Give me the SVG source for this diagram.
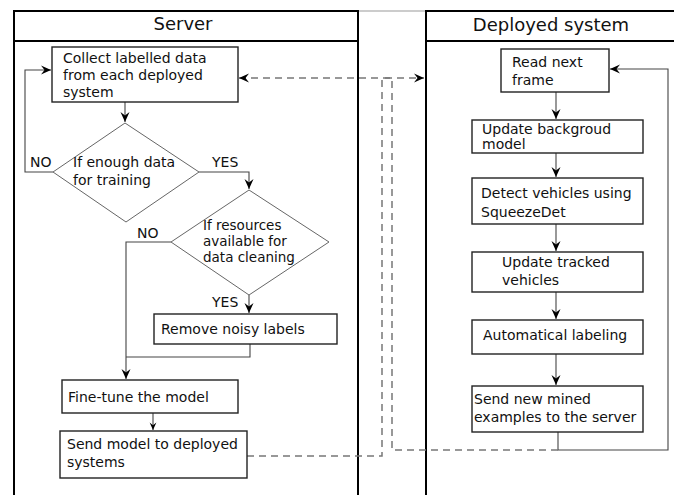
<svg xmlns="http://www.w3.org/2000/svg" width="674" height="495" viewBox="0 0 674 495">
<defs>
<style>
text{font-family:"DejaVu Sans",Verdana,sans-serif;font-size:14px;fill:#111}
.hdr{font-size:18px;text-anchor:middle}
.tight{font-size:13.5px}
.lane{fill:none;stroke:#000;stroke-width:2}
.box{fill:#fff;stroke:#222;stroke-width:1.4}
.dia{fill:#fff;stroke:#666;stroke-width:1}
.c{fill:none;stroke:#444;stroke-width:1.1}
.d{fill:none;stroke:#777;stroke-width:1.5;stroke-dasharray:7,5}
</style>
<marker id="ah" viewBox="-11 -5 12 10" refX="0" refY="0" markerWidth="12" markerHeight="10" markerUnits="userSpaceOnUse" orient="auto">
<path d="M0,0 L-10,-4.5 L-6.5,0 L-10,4.5 Z" fill="#000"/>
</marker>
<marker id="ahs" viewBox="-11 -5 12 10" refX="0" refY="0" markerWidth="9" markerHeight="8" markerUnits="userSpaceOnUse" orient="auto">
<path d="M0,0 L-10,-4.5 L-6.5,0 L-10,4.5 Z" fill="#000"/>
</marker>
</defs>

<g id="lanes">
<line x1="358" y1="11" x2="426" y2="11" stroke="#bbb" stroke-width="1.5"/>
<g id="lane-server">
<rect class="lane" x="14" y="11" width="344" height="500"/>
<line class="lane" x1="14" y1="41" x2="358" y2="41"/>
<text class="hdr" x="183" y="30">Server</text>
</g>
<g id="lane-deployed">
<rect class="lane" x="426" y="11" width="260" height="500"/>
<line class="lane" x1="426" y1="41" x2="686" y2="41"/>
<text class="hdr" x="551" y="31">Deployed system</text>
</g>
</g>

<g id="connectors">
<path class="c" d="M125,102 V122" marker-end="url(#ah)"/>
<path class="c" d="M53,172 H25 V70 H51" marker-end="url(#ah)"/>
<path class="c" d="M199,172 H249 V189" marker-end="url(#ah)"/>
<path class="c" d="M171,242 H126 V379" marker-end="url(#ah)"/>
<path class="c" d="M249,295 V313" marker-end="url(#ah)"/>
<path class="c" d="M250,344 V357 H126"/>
<path class="c" d="M153,413 V430" marker-end="url(#ahs)"/>
<path class="c" d="M556,92 V119" marker-end="url(#ah)"/>
<path class="c" d="M556,153 V177" marker-end="url(#ah)"/>
<path class="c" d="M556,224 V251" marker-end="url(#ah)"/>
<path class="c" d="M556,292 V319" marker-end="url(#ah)"/>
<path class="c" d="M556,354 V385" marker-end="url(#ah)"/>
<path class="c" d="M558,432 V450 H668 V69 H610" marker-end="url(#ah)"/>
<path class="d" d="M247,456 H382 V78 H424" marker-end="url(#ah)"/>
<path class="d" d="M558,450 H392 V78 H239" marker-end="url(#ah)"/>
</g>

<g id="collect">
<rect class="box" x="52" y="47" width="186" height="55"/>
<text x="63" y="63">Collect labelled data</text>
<text x="63" y="80">from each deployed</text>
<text x="63" y="97">system</text>
</g>
<g id="enough-data">
<polygon class="dia" points="125,123 199,172 126,222 53,172"/>
<text x="73" y="167">If enough data</text>
<text x="73" y="185">for training</text>
</g>
<g id="resources">
<polygon class="dia" points="249,190 329,242 249,295 171,242"/>
<text class="tight" x="203" y="230">If resources</text>
<text class="tight" x="203" y="246">available for</text>
<text class="tight" x="203" y="262">data cleaning</text>
</g>
<g id="labels">
<text x="30" y="167">NO</text>
<text x="212" y="167">YES</text>
<text x="137" y="238">NO</text>
<text x="212" y="307">YES</text>
</g>
<g id="remove">
<rect class="box" x="154" y="314" width="183" height="30"/>
<text x="161" y="334">Remove noisy labels</text>
</g>
<g id="finetune">
<rect class="box" x="62" y="380" width="176" height="33"/>
<text x="68" y="402">Fine-tune the model</text>
</g>
<g id="sendmodel">
<rect class="box" x="60" y="431" width="187" height="47"/>
<text x="67" y="449">Send model to deployed</text>
<text x="67" y="467">systems</text>
</g>

<g id="readframe">
<rect class="box" x="501" y="49" width="108" height="43"/>
<text x="512" y="67">Read next</text>
<text x="512" y="85">frame</text>
</g>
<g id="background">
<rect class="box" x="472" y="120" width="171" height="33"/>
<text x="482" y="134">Update backgroud</text>
<text x="482" y="149">model</text>
</g>
<g id="detect">
<rect class="box" x="472" y="178" width="171" height="46"/>
<text x="481" y="198">Detect vehicles using</text>
<text x="481" y="217">SqueezeDet</text>
</g>
<g id="tracked">
<rect class="box" x="472" y="252" width="171" height="40"/>
<text x="502" y="267">Update tracked</text>
<text x="502" y="285">vehicles</text>
</g>
<g id="autolabel">
<rect class="box" x="472" y="320" width="171" height="34"/>
<text x="483" y="340">Automatical labeling</text>
</g>
<g id="sendmined">
<rect class="box" x="472" y="386" width="171" height="46"/>
<text x="474" y="404">Send new mined</text>
<text x="474" y="422">examples to the server</text>
</g>
</svg>
